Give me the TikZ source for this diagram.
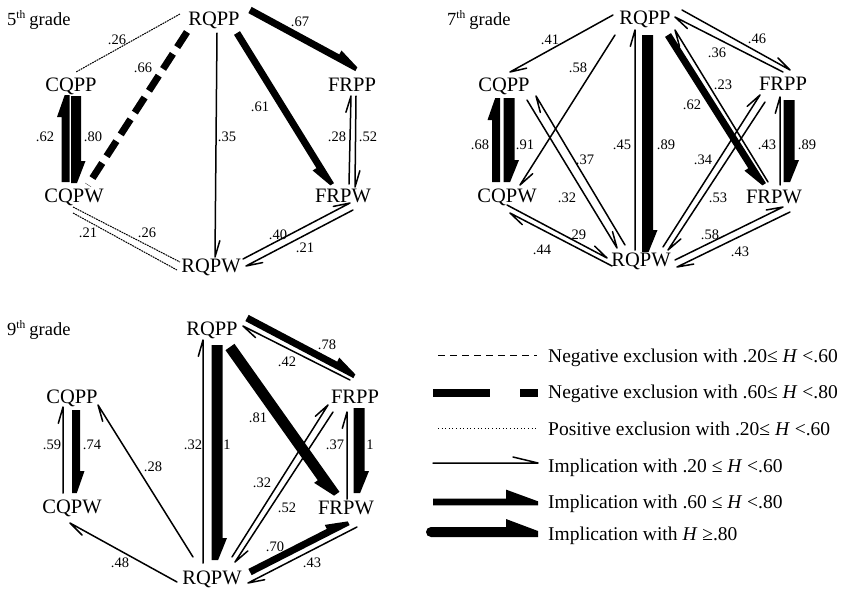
\documentclass[tikz,border=0pt]{standalone}
\usepackage{fontspec}
\setmainfont{Liberation Serif}
\usetikzlibrary{calc}
% flag-shaped thick implication: #1 start, #2 end, #3 half width, #4 side, #5 head length, #6 bump
\newcommand\FlagC[6]{%
 \fill let \p1=#1, \p2=#2, \n1={atan2(\y2-\y1,\x2-\x1)} in
  ($(\p1)+({\n1-(#4)*90}:#3)$) -- ($(\p2)+({\n1-(#4)*90}:#3)$) --
  ($(\p2)+({\n1+(#4)*90}:{0.2*#3})$) --
  ($(\p2)+({\n1+180}:#5)+({\n1+(#4)*90}:{#3+#6})$) --
  ($(\p2)+({\n1+180}:#5)+({\n1+(#4)*90}:#3)$) --
  ($(\p1)+({\n1+(#4)*90}:#3)$) -- cycle;}
% thin implication with a one-sided barb
\newcommand\ThinC[2]{%
 \draw[thinl] let \p1=#1, \p2=#2, \n1={atan2(\y2-\y1,\x2-\x1)} in
  (\p1) -- (\p2) -- ($(\p2)+({\n1+164}:17pt)$);}
\newcommand\ImpThin[4]{\ThinC{([shift={(#2)}]#1.center)}{([shift={(#4)}]#3.center)}}
\newcommand\ImpThick[6]{\FlagC{([shift={(#2)}]#1.center)}{([shift={(#4)}]#3.center)}{#5}{#6}{22pt}{4.5pt}}
\begin{document}
\begin{tikzpicture}[x=1pt,y=-1pt,
 nd/.style={inner sep=0pt, text height=13.6pt, text depth=0pt, font=\fontsize{20.5}{24}\selectfont},
 lab/.style={inner sep=0pt, text height=9.8pt, text depth=0pt, font=\fontsize{14.5}{17}\selectfont},
 ttl/.style={inner sep=0pt, anchor=base west, font=\fontsize{18.5}{22}\selectfont},
 leg/.style={inner sep=0pt, anchor=base west, font=\fontsize{19.5}{23}\selectfont},
 thinl/.style={line width=1.5pt, line join=round, line cap=round},
 dotl/.style={line width=1pt, dash pattern=on 1.8pt off 0.8pt},
 negthick/.style={line width=7pt, dash pattern=on 18pt off 8pt}]
\useasboundingbox (0,0) rectangle (847,590);
\newcommand\sth[1]{\raisebox{7pt}{\fontsize{11.5}{12}\selectfont #1}\hspace{4pt}}
% ---------------- 5th grade ----------------
\node[ttl] (g5) at (7,25) {5\sth{th}grade};
\node[nd] (R5P) at (214,19) {RQPP};
\node[nd] (C5P) at (71,85) {CQPP};
\node[nd] (C5W) at (74,196) {CQPW};
\node[nd] (R5W) at (211,266) {RQPW};
\node[nd] (F5P) at (352,85) {FRPP};
\node[nd] (F5W) at (343,196) {FRPW};
\draw[dotl] ([shift={(-34,-5)}]R5P.center) -- ([shift={(5,-13)}]C5P.center);
\draw[negthick] ([shift={(-27,13)}]R5P.center) -- ([shift={(14,-11)}]C5W.center);
\ImpThick{C5W}{-8.5,-14}{C5P}{-5.5,10}{4pt}{1}
\ImpThick{C5P}{5,11}{C5W}{2,-13}{5pt}{1}
\ImpThin{R5P}{3,14}{R5W}{4,-9}
\ImpThick{R5P}{23,14}{F5W}{-12,-11}{3.5pt}{-1}
\ImpThick{R5P}{36,-9}{F5P}{5,-17}{3.5pt}{1}
\ImpThin{F5W}{6,-12}{F5P}{-1,11}
\ImpThin{F5P}{4,11}{F5W}{12,-9}
\ImpThin{R5W}{32,-7}{F5W}{7,7}
\ImpThin{F5W}{10,14}{R5W}{35,0}
\draw[dotl] ([shift={(-1,11)}]C5W.center) -- ([shift={(-31,-4)}]R5W.center);
\draw[dotl] ([shift={(-1,17)}]C5W.center) -- ([shift={(-34,4)}]R5W.center);
\node[lab] (a1) at (117,40) {.26};
\node[lab] (a2) at (143,68) {.66};
\node[lab] (a3) at (45,137) {.62};
\node[lab] (a4) at (93,137) {.80};
\node[lab] (a5) at (227,137) {.35};
\node[lab] (a6) at (260,107) {.61};
\node[lab] (a7) at (300,22) {.67};
\node[lab] (a8) at (337,137) {.28};
\node[lab] (a9) at (368,137) {.52};
\node[lab] (a10) at (278,235) {.40};
\node[lab] (a11) at (305,248) {.21};
\node[lab] (a12) at (88,233) {.21};
\node[lab] (a13) at (147,233) {.26};
% ---------------- 7th grade ----------------
\node[ttl] (g7) at (447,25) {7\sth{th}grade};
\node[nd] (R7P) at (645,18) {RQPP};
\node[nd] (C7P) at (504,85) {CQPP};
\node[nd] (C7W) at (507,196) {CQPW};
\node[nd] (R7W) at (641,260) {RQPW};
\node[nd] (F7P) at (783,84) {FRPP};
\node[nd] (F7W) at (774,197) {FRPW};
\ImpThin{R7P}{-32,-3}{C7P}{6,-13}
\ImpThin{R7P}{-30,17}{C7W}{13,-11}
\ImpThin{C7P}{23,15}{R7W}{-24,-12}
\ImpThin{R7W}{-16,-15}{C7P}{32,11}
\ImpThick{C7W}{-11,-14}{C7P}{-8,13}{4pt}{1}
\ImpThick{C7P}{5,13}{C7W}{2,-14}{5.5pt}{1}
\ImpThin{C7W}{0,9}{R7W}{-34,-2}
\ImpThin{R7W}{-29,6}{C7W}{3,17}
\ImpThin{R7W}{-6,-10}{R7P}{-10,12}
\ImpThick{R7P}{2.5,17}{R7W}{6.5,-8}{5.5pt}{1}
\ImpThick{R7P}{23,17}{F7W}{-11,-12}{3.5pt}{-1}
\ImpThin{F7W}{-6,-15}{R7P}{30,12}
\ImpThin{R7P}{37,-8}{F7P}{7,-14}
\ImpThin{F7P}{0,-12}{R7P}{30,-1}
\ImpThin{R7W}{22,-13}{F7P}{-23,11}
\ImpThin{F7P}{-18,18}{R7W}{27,-10}
\ImpThin{F7W}{6,-12}{F7P}{-3,13}
\ImpThick{F7P}{6,16}{F7W}{15,-15}{5.5pt}{1}
\ImpThin{R7W}{34,0}{F7W}{9,10}
\ImpThin{F7W}{16,15}{R7W}{36,7}
\node[lab] (b1) at (550,40) {.41};
\node[lab] (b2) at (578,68) {.58};
\node[lab] (b3) at (585,160) {.37};
\node[lab] (b4) at (567,198) {.32};
\node[lab] (b5) at (480,145) {.68};
\node[lab] (b6) at (525,145) {.91};
\node[lab] (b7) at (577,235) {.29};
\node[lab] (b8) at (542,250) {.44};
\node[lab] (b9) at (622,145) {.45};
\node[lab] (b10) at (666,145) {.89};
\node[lab] (b11) at (692,105) {.62};
\node[lab] (b12) at (723,85) {.23};
\node[lab] (b13) at (757,39) {.46};
\node[lab] (b14) at (717,53) {.36};
\node[lab] (b15) at (703,160) {.34};
\node[lab] (b16) at (718,198) {.53};
\node[lab] (b17) at (767,145) {.43};
\node[lab] (b18) at (807,145) {.89};
\node[lab] (b19) at (710,235) {.58};
\node[lab] (b20) at (740,252) {.43};
% ---------------- 9th grade ----------------
\node[ttl] (g9) at (7,335) {9\sth{th}grade};
\node[nd] (R9P) at (212,329) {RQPP};
\node[nd] (C9P) at (72,397) {CQPP};
\node[nd] (C9W) at (72,507) {CQPW};
\node[nd] (R9W) at (212,578) {RQPW};
\node[nd] (F9P) at (355,397) {FRPP};
\node[nd] (F9W) at (346,508) {FRPW};
\ImpThin{C9W}{-9,-14}{C9P}{-9,10}
\ImpThick{C9P}{4,13}{C9W}{4,-14}{4pt}{1}
\ImpThin{R9W}{-19,-21}{C9P}{26,8}
\ImpThin{R9W}{-35,4}{C9W}{-2,16}
\ImpThin{R9W}{-9,-15}{R9P}{-9,11}
\ImpThick{R9P}{5,16}{R9W}{5,-18}{5.5pt}{1}
\ImpThick{R9P}{18,18}{F9W}{-11,-13}{5.5pt}{-1}
\ImpThick{R9P}{35,-11}{F9P}{0,-22}{3.5pt}{1}
\ImpThin{F9P}{-5,-17}{R9P}{31,-3}
\ImpThin{R9W}{20,-21}{F9P}{-27,8}
\ImpThin{F9P}{-22,15}{R9W}{23,-16}
\ImpThin{F9W}{1,-9}{F9P}{-8,15}
\ImpThick{F9P}{4,11}{F9W}{13,-15}{5.5pt}{1}
\ImpThick{R9W}{38,-6}{F9W}{2,14}{3.5pt}{1}
\ImpThin{F9W}{11,19}{R9W}{36,5}
\node[lab] (c1) at (52,445) {.59};
\node[lab] (c2) at (92,445) {.74};
\node[lab] (c3) at (153,467) {.28};
\node[lab] (c4) at (120,563) {.48};
\node[lab] (c5) at (193,445) {.32};
\node[lab] (c6) at (227,445) {1};
\node[lab] (c7) at (258,418) {.81};
\node[lab] (c8) at (327,345) {.78};
\node[lab] (c9) at (287,362) {.42};
\node[lab] (c10) at (262,483) {.32};
\node[lab] (c11) at (287,508) {.52};
\node[lab] (c12) at (335,445) {.37};
\node[lab] (c13) at (370,445) {1};
\node[lab] (c14) at (275,547) {.70};
\node[lab] (c15) at (312,563) {.43};
% ---------------- legend ----------------
\coordinate (L1a) at (438,355); \coordinate (L1b) at (537,355);
\coordinate (L2a) at (433,393); \coordinate (L2b) at (538,393);
\coordinate (L3a) at (438,428); \coordinate (L3b) at (537,428);
\coordinate (L4a) at (433,463); \coordinate (L4b) at (538,463);
\coordinate (L5a) at (433,502); \coordinate (L5b) at (538,502);
\coordinate (L6a) at (431,532); \coordinate (L6b) at (538,532);
\draw[line width=1pt, dash pattern=on 7pt off 5pt] (L1a) -- (L1b);
\draw[line width=8pt, dash pattern=on 57pt off 30pt] (L2a) -- (L2b);
\draw[line width=0.8pt, dash pattern=on 1pt off 2.6pt] (L3a) -- (L3b);
\draw[thinl] (L4a) -- (L4b) -- ++(-25,-6);
\FlagC{(L5a)}{(L5b)}{3.4pt}{1}{32pt}{9pt}
\FlagC{(L6a)}{(L6b)}{5pt}{1}{32pt}{8pt}
\fill (L6a) circle (5pt);
\node[leg] (t1) at (548,362) {Negative exclusion with .20≤ \textit{H} <.60};
\node[leg] (t2) at (548,398) {Negative exclusion with .60≤ \textit{H} <.80};
\node[leg] (t3) at (548,435) {Positive exclusion with .20≤ \textit{H} <.60};
\node[leg] (t4) at (548,472) {Implication with .20 ≤ \textit{H} <.60};
\node[leg] (t5) at (548,508) {Implication with .60 ≤ \textit{H} <.80};
\node[leg] (t6) at (548,540) {Implication with \textit{H} ≥.80};
\end{tikzpicture}
\end{document}
